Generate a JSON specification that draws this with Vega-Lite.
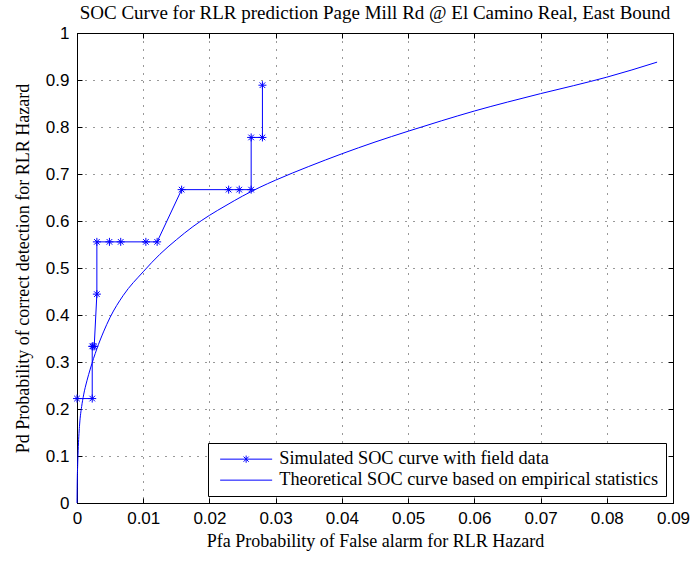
{
  "$schema": "https://vega.github.io/schema/vega-lite/v6.json",
  "width": 596,
  "height": 470,
  "autosize": {"type": "none"},
  "padding": {"left": 77, "top": 33, "right": 21, "bottom": 58},
  "background": "white",
  "title": {
    "text": "SOC Curve for RLR prediction Page Mill Rd @ El Camino Real, East Bound",
    "font": "Liberation Serif", "fontSize": 19, "fontWeight": "normal", "color": "black",
    "offset": 1, "anchor": "middle", "frame": "group"
  },
  "config": {
    "view": {"stroke": "black", "strokeWidth": 1},
    "axis": {
      "labelFont": "Liberation Sans", "labelFontSize": 17, "labelColor": "black",
      "titleFont": "Liberation Serif", "titleFontSize": 18, "titleFontWeight": "normal", "titleColor": "black",
      "domainColor": "black", "tickColor": "black", "tickSize": -5,
      "gridColor": "black", "gridDash": [1, 7], "gridOpacity": 0.8, "gridWidth": 1
    },
    "legend": {
      "orient": "bottom-right", "offset": 7,
      "labelFont": "Liberation Serif", "labelFontSize": 18.3, "labelColor": "black", "labelLimit": 0,
      "strokeColor": "black", "fillColor": "white", "padding": 7,
      "symbolSize": 64, "symbolStrokeWidth": 1, "symbolOffset": 22, "labelOffset": 24,
      "rowPadding": 2
    }
  },
  "data": {
    "values": [
      {"series": "Simulated SOC curve with field data", "i": 1, "x": 0.0, "y": 0.2222},
      {"series": "Simulated SOC curve with field data", "i": 2, "x": 0.0023, "y": 0.2222},
      {"series": "Simulated SOC curve with field data", "i": 3, "x": 0.0023, "y": 0.3333},
      {"series": "Simulated SOC curve with field data", "i": 4, "x": 0.0024, "y": 0.3333},
      {"series": "Simulated SOC curve with field data", "i": 5, "x": 0.0026, "y": 0.3333},
      {"series": "Simulated SOC curve with field data", "i": 6, "x": 0.0030, "y": 0.4444},
      {"series": "Simulated SOC curve with field data", "i": 7, "x": 0.0030, "y": 0.5556},
      {"series": "Simulated SOC curve with field data", "i": 8, "x": 0.0049, "y": 0.5556},
      {"series": "Simulated SOC curve with field data", "i": 9, "x": 0.0066, "y": 0.5556},
      {"series": "Simulated SOC curve with field data", "i": 10, "x": 0.0104, "y": 0.5556},
      {"series": "Simulated SOC curve with field data", "i": 11, "x": 0.0121, "y": 0.5556},
      {"series": "Simulated SOC curve with field data", "i": 12, "x": 0.0158, "y": 0.6667},
      {"series": "Simulated SOC curve with field data", "i": 13, "x": 0.0229, "y": 0.6667},
      {"series": "Simulated SOC curve with field data", "i": 14, "x": 0.0245, "y": 0.6667},
      {"series": "Simulated SOC curve with field data", "i": 15, "x": 0.0263, "y": 0.6667},
      {"series": "Simulated SOC curve with field data", "i": 16, "x": 0.0263, "y": 0.7778},
      {"series": "Simulated SOC curve with field data", "i": 17, "x": 0.0280, "y": 0.7778},
      {"series": "Simulated SOC curve with field data", "i": 18, "x": 0.0280, "y": 0.8889},
      {"series": "Theoretical SOC curve based on empirical statistics", "i": 101, "x": 0.0, "y": 0.0},
      {"series": "Theoretical SOC curve based on empirical statistics", "i": 102, "x": 0.00003, "y": 0.04},
      {"series": "Theoretical SOC curve based on empirical statistics", "i": 103, "x": 0.0001, "y": 0.08},
      {"series": "Theoretical SOC curve based on empirical statistics", "i": 104, "x": 0.0002, "y": 0.12},
      {"series": "Theoretical SOC curve based on empirical statistics", "i": 105, "x": 0.0004, "y": 0.168},
      {"series": "Theoretical SOC curve based on empirical statistics", "i": 106, "x": 0.0007, "y": 0.205},
      {"series": "Theoretical SOC curve based on empirical statistics", "i": 107, "x": 0.001, "y": 0.23},
      {"series": "Theoretical SOC curve based on empirical statistics", "i": 108, "x": 0.0015, "y": 0.26},
      {"series": "Theoretical SOC curve based on empirical statistics", "i": 109, "x": 0.002, "y": 0.285},
      {"series": "Theoretical SOC curve based on empirical statistics", "i": 110, "x": 0.003, "y": 0.328},
      {"series": "Theoretical SOC curve based on empirical statistics", "i": 111, "x": 0.004, "y": 0.364},
      {"series": "Theoretical SOC curve based on empirical statistics", "i": 112, "x": 0.005, "y": 0.395},
      {"series": "Theoretical SOC curve based on empirical statistics", "i": 113, "x": 0.007, "y": 0.442},
      {"series": "Theoretical SOC curve based on empirical statistics", "i": 114, "x": 0.01, "y": 0.492},
      {"series": "Theoretical SOC curve based on empirical statistics", "i": 115, "x": 0.0125, "y": 0.529},
      {"series": "Theoretical SOC curve based on empirical statistics", "i": 116, "x": 0.015, "y": 0.56},
      {"series": "Theoretical SOC curve based on empirical statistics", "i": 117, "x": 0.0175, "y": 0.588},
      {"series": "Theoretical SOC curve based on empirical statistics", "i": 118, "x": 0.02, "y": 0.612},
      {"series": "Theoretical SOC curve based on empirical statistics", "i": 119, "x": 0.0225, "y": 0.633},
      {"series": "Theoretical SOC curve based on empirical statistics", "i": 120, "x": 0.025, "y": 0.653},
      {"series": "Theoretical SOC curve based on empirical statistics", "i": 121, "x": 0.0275, "y": 0.671},
      {"series": "Theoretical SOC curve based on empirical statistics", "i": 122, "x": 0.03, "y": 0.687},
      {"series": "Theoretical SOC curve based on empirical statistics", "i": 123, "x": 0.035, "y": 0.716},
      {"series": "Theoretical SOC curve based on empirical statistics", "i": 124, "x": 0.04, "y": 0.743},
      {"series": "Theoretical SOC curve based on empirical statistics", "i": 125, "x": 0.045, "y": 0.768},
      {"series": "Theoretical SOC curve based on empirical statistics", "i": 126, "x": 0.05, "y": 0.791},
      {"series": "Theoretical SOC curve based on empirical statistics", "i": 127, "x": 0.055, "y": 0.813},
      {"series": "Theoretical SOC curve based on empirical statistics", "i": 128, "x": 0.06, "y": 0.834},
      {"series": "Theoretical SOC curve based on empirical statistics", "i": 129, "x": 0.065, "y": 0.853},
      {"series": "Theoretical SOC curve based on empirical statistics", "i": 130, "x": 0.07, "y": 0.871},
      {"series": "Theoretical SOC curve based on empirical statistics", "i": 131, "x": 0.075, "y": 0.888},
      {"series": "Theoretical SOC curve based on empirical statistics", "i": 132, "x": 0.08, "y": 0.906},
      {"series": "Theoretical SOC curve based on empirical statistics", "i": 133, "x": 0.0876, "y": 0.938}
    ]
  },
  "layer": [
    {
      "transform": [{"filter": "datum.series === 'Simulated SOC curve with field data'"}],
      "mark": {"type": "line", "strokeWidth": 1},
      "encoding": {
        "x": {
          "field": "x", "type": "quantitative",
          "scale": {"domain": [0, 0.09], "nice": false, "zero": false},
          "axis": {
            "values": [0, 0.01, 0.02, 0.03, 0.04, 0.05, 0.06, 0.07, 0.08, 0.09],
            "format": ".2~f", "labelPadding": 12, "labelFlush": false,
            "title": "Pfa Probability of False alarm for RLR Hazard", "titlePadding": 6, "grid": true
          }
        },
        "y": {
          "field": "y", "type": "quantitative",
          "scale": {"domain": [0, 1], "nice": false},
          "axis": {
            "values": [0, 0.1, 0.2, 0.3, 0.4, 0.5, 0.6, 0.7, 0.8, 0.9, 1],
            "format": ".1~f", "labelPadding": 13, "labelFlush": false,
            "title": "Pd Probability of correct detection for RLR Hazard", "titlePadding": 13, "grid": true
          }
        },
        "color": {
          "field": "series", "type": "nominal",
          "scale": {
            "domain": ["Simulated SOC curve with field data", "Theoretical SOC curve based on empirical statistics"],
            "range": ["#0000ff", "#0000ff"]
          },
          "legend": {
            "title": null,
            "encode": {
              "symbols": {
                "update": {
                  "shape": {"signal": "datum.value === 'Simulated SOC curve with field data' ? 'M-6.5,0H6.5M0,-0.9V0.9M-0.65,-0.65L0.65,0.65M-0.65,0.65L0.65,-0.65' : 'M-6.5,0H6.5'"},
                  "strokeWidth": {"value": 1},
                  "fill": {"value": "transparent"}
                }
              }
            }
          }
        },
        "order": {"field": "i", "type": "quantitative"}
      }
    },
    {
      "transform": [{"filter": "datum.series !== 'Simulated SOC curve with field data'"}],
      "mark": {"type": "line", "strokeWidth": 1, "interpolate": "monotone"},
      "encoding": {
        "x": {"field": "x", "type": "quantitative", "axis": null},
        "y": {"field": "y", "type": "quantitative", "axis": null},
        "color": {"field": "series", "type": "nominal"},
        "order": {"field": "i", "type": "quantitative"}
      }
    },
    {
      "transform": [{"filter": "datum.series === 'Simulated SOC curve with field data'"}],
      "mark": {
        "type": "point", "filled": false, "stroke": "#0000ff", "strokeWidth": 1, "size": 64, "opacity": 1,
        "shape": "M0,-1V1M-1,0H1M-0.7,-0.7L0.7,0.7M-0.7,0.7L0.7,-0.7"
      },
      "encoding": {
        "x": {"field": "x", "type": "quantitative", "axis": {"orient": "top", "labels": false, "title": null, "grid": false, "domain": false, "values": [0, 0.01, 0.02, 0.03, 0.04, 0.05, 0.06, 0.07, 0.08, 0.09]}},
        "y": {"field": "y", "type": "quantitative", "axis": {"orient": "right", "labels": false, "title": null, "grid": false, "domain": false, "values": [0, 0.1, 0.2, 0.3, 0.4, 0.5, 0.6, 0.7, 0.8, 0.9, 1]}}
      }
    }
  ],
  "resolve": {"axis": {"x": "independent", "y": "independent"}}
}
